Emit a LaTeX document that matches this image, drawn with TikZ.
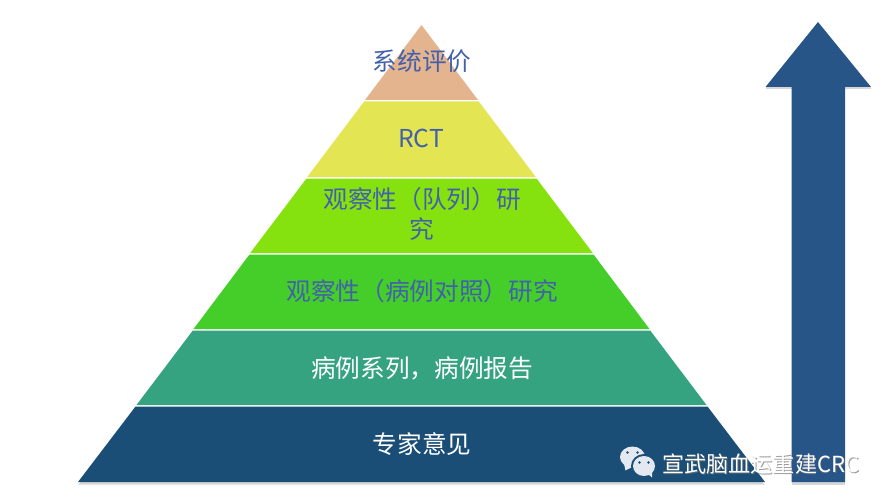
\documentclass[tikz,border=0pt]{standalone}
\usepackage{fontspec}
\setmainfont{Noto Sans CJK SC}
\begin{document}
\begin{tikzpicture}[x=0.75pt,y=-0.75pt,
  lbl/.style={font=\fontsize{18.5pt}{22.5pt}\selectfont,inner sep=0pt,align=center},
  bluelbl/.style={lbl,text=txtblue},
  whitelbl/.style={lbl,text=white},
  wm/.style={font=\fontsize{16.6pt}{20pt}\selectfont,inner sep=0pt,anchor=west},
  shade/.style={fill=black,opacity=0.16}]
\definecolor{txtblue}{HTML}{4260AC}
\definecolor{b1}{HTML}{E3B48D}
\definecolor{b2}{HTML}{E3E553}
\definecolor{b3}{HTML}{86E20E}
\definecolor{b4}{HTML}{45CE29}
\definecolor{b5}{HTML}{36A380}
\definecolor{b6}{HTML}{1A4E76}
\definecolor{arrowblue}{HTML}{285588}
\definecolor{bubble}{HTML}{E4E8F0}
\useasboundingbox (0,0) rectangle (886,503);
\fill[white] (0,0) rectangle (886,503);
% shadows
\fill[shade] (78,484.5) -- (765,484.5) -- (762,482) -- (81,482) -- cycle;
\fill[shade] (791.5,484.5) rectangle (845,482);
\fill[shade] (765.5,89) -- (791.5,89) -- (791.5,87) -- (765.5,87) -- cycle;
\fill[shade] (845,89) -- (871,89) -- (871,87) -- (845,87) -- cycle;
% pyramid bands
\fill[b1] (421.5,25) -- (478,100) -- (365,100) -- cycle;
\fill[b2] (364.2,101.5) -- (478.8,101.5) -- (535.8,177) -- (307.2,177) -- cycle;
\fill[b3] (306.5,178.5) -- (536.5,178.5) -- (592.8,253) -- (250.2,253) -- cycle;
\fill[b4] (249.5,254.5) -- (593.5,254.5) -- (649.5,329) -- (193.5,329) -- cycle;
\fill[b5] (192.8,330.5) -- (650.2,330.5) -- (706.5,405) -- (136.5,405) -- cycle;
\fill[b6] (135.5,406.5) -- (707.5,406.5) -- (765,482) -- (78,482) -- cycle;
% arrow
\fill[arrowblue] (818,22) -- (871,87) -- (845,87) -- (845,482) -- (791.5,482) -- (791.5,87) -- (765.5,87) -- cycle;
% labels
\node[bluelbl] (t1) at (422,61) {系统评价};
\node[bluelbl] (t2) at (421,138) {RCT};
\node[bluelbl] (t3) at (422,213.5) {观察性（队列）研\\究};
\node[bluelbl] (t4) at (422,291) {观察性（病例对照）研究};
\node[whitelbl] (t5) at (422,368) {病例系列，病例报告};
\node[whitelbl] (t6) at (422,444) {专家意见};
% watermark
\fill[bubble] (632.5,457) ellipse (12.5 and 10.5);
\fill[bubble] (624,464) -- (625.5,470.5) -- (634,466) -- cycle;
\fill[b6] (627.5,452.5) circle (1.4) (637.5,452.5) circle (1.4);
\fill[b6] (644,466) ellipse (13 and 12);
\fill[bubble] (644,466) ellipse (11 and 10);
\fill[bubble] (648,474) -- (652,477.5) -- (652,472) -- cycle;
\fill[b6] (639.5,462.5) circle (1.3) (648.5,462.5) circle (1.3);
\node[wm,text=black!55,opacity=0.7] (wms) at (662.7,464.7) {宣武脑血运重建CRC};
\node[wm,text=white] (wmt) at (662,464) {宣武脑血运重建CRC};
\end{tikzpicture}
\end{document}
